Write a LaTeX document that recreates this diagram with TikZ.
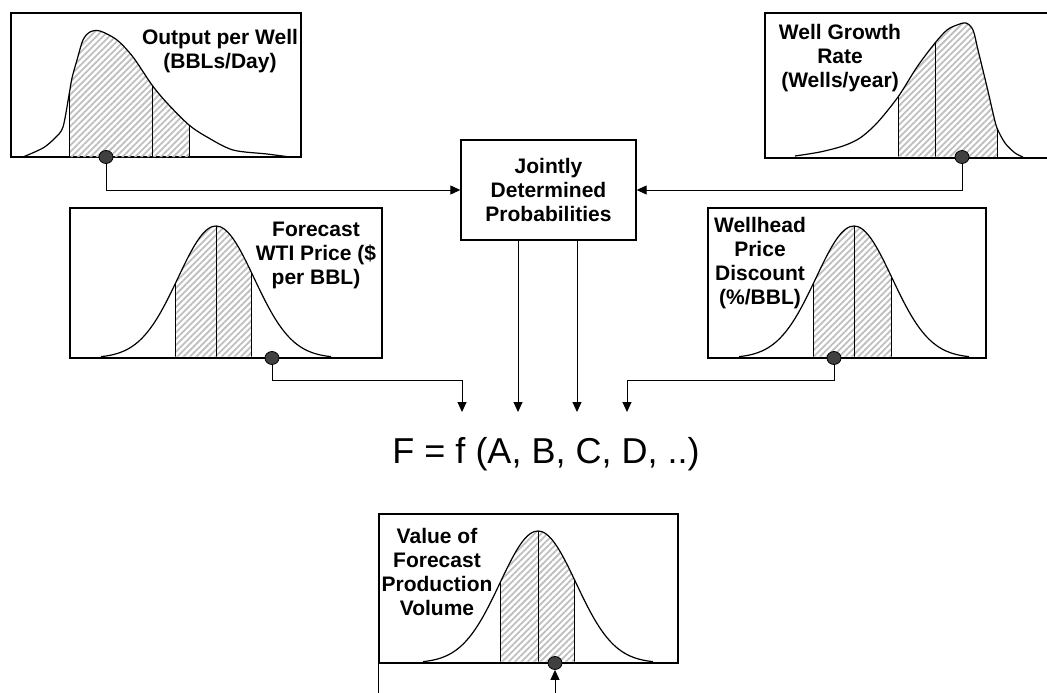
\documentclass[tikz,border=0pt]{standalone}
\usepackage{fontspec}
\setmainfont{Liberation Sans}
\usetikzlibrary{arrows.meta,patterns.meta}
\tikzset{
  pbox/.style={draw, line width=1.3pt, inner sep=0pt},
  plabel/.style={font=\fontsize{21}{24}\selectfont\bfseries, align=center, inner sep=0pt},
  hatch/.style={pattern={Lines[angle=45,distance=4.5pt,line width=1.8pt]}, pattern color=black!25},
  curve/.style={line width=1.2pt, line join=round},
  cut/.style={line width=1pt},
  pdot/.style={ellipse, draw=black, line width=0.8pt, fill=black!75, minimum width=14pt, minimum height=13pt, inner sep=0pt},
  arr/.style={line width=1pt, -{Triangle[length=10pt,width=9pt]}},
}
\usetikzlibrary{shapes.geometric}
% bell curve: centre, baseline, from, to
\newcommand{\bell}[4]{plot[domain=#3:#4, samples=61, smooth] (\x,{#2-132*exp(-((\x-#1)^2)/2888)})}
\def\curveA{plot[smooth] coordinates {(23,157) (43,148) (55,138) (63,127) (69,95) (72,78)
  (77,60) (83,40) (90,32) (100,31) (117,40) (133,57) (152,85) (167,103) (189,125)
  (207,137) (233,150) (267,154) (290,157)}}
\def\curveB{plot[smooth] coordinates {(795,156) (820,152) (843,146) (860,138) (877,123)
  (898,97) (917,67) (935,43) (947,30) (957,25) (966,23) (973,30) (978,50) (987,87)
  (993,113) (997,128) (1005,143) (1015,153) (1023,157)}}

\begin{document}
\begin{tikzpicture}[x=1pt, y=-1pt]
\useasboundingbox (0,0) rectangle (1047,693);

% Output per well
\node[pbox, minimum width=290pt, minimum height=144pt] (bA) at (156,85) {};
\begin{scope}
  \clip \curveA -- cycle;
  \fill[hatch] (69,0) rectangle (189,157);
  \draw[cut] (69,0) -- (69,157) (152,0) -- (152,157) (189,0) -- (189,157);
\end{scope}
\draw[curve] \curveA;
\node[plabel] (tA) at (220,51) {Output per Well\\(BBLs/Day)};
\node[pdot] (dA) at (106,157) {};

% Well growth rate
\node[pbox, minimum width=287pt, minimum height=145pt] (bB) at (908.5,85.5) {};
\begin{scope}
  \clip \curveB -- cycle;
  \fill[hatch] (898,0) rectangle (997,158);
  \draw[cut] (898,0) -- (898,158) (935,0) -- (935,158) (997,0) -- (997,158);
\end{scope}
\draw[curve] \curveB;
\node[plabel] (tB) at (840,58) {Well Growth\\Rate\\(Wells/year)};
\node[pdot] (dB) at (962,157) {};

% Forecast WTI price
\node[pbox, minimum width=312pt, minimum height=150pt] (bC) at (226,283) {};
\begin{scope}
  \clip \bell{216}{358}{101}{331} -- cycle;
  \fill[hatch] (175,200) rectangle (251,358);
  \draw[cut] (175,200) -- (175,358) (216,200) -- (216,358) (251,200) -- (251,358);
\end{scope}
\draw[curve] \bell{216}{358}{101}{331};
\node[plabel] (tC) at (316,255) {Forecast\\WTI Price (\$\\per BBL)};
\node[pdot] (dC) at (272,358) {};

% Wellhead price discount
\node[pbox, minimum width=278pt, minimum height=150pt] (bD) at (847,283) {};
\begin{scope}
  \clip \bell{854}{358}{739}{969} -- cycle;
  \fill[hatch] (813,200) rectangle (891,358);
  \draw[cut] (813,200) -- (813,358) (854,200) -- (854,362) (891,200) -- (891,358);
\end{scope}
\draw[curve] \bell{854}{358}{739}{969};
\node[plabel] (tD) at (760,263) {Wellhead\\Price\\Discount\\(\%/BBL)};
\node[pdot] (dD) at (834,358) {};

% Jointly determined probabilities
\node[pbox, plabel, minimum width=175pt, minimum height=100pt] (jp) at (548.5,190)
  {Jointly\\Determined\\Probabilities};

% Function
\node[font=\fontsize{36}{40}\selectfont, inner sep=0pt] (frm) at (546,454) {F = f (A, B, C, D, ..)};
\coordinate (inA) at (462,412);
\coordinate (inB) at (518,412);
\coordinate (inC) at (577,412);
\coordinate (inD) at (627,412);

% Value of forecast production volume
\node[pbox, minimum width=299pt, minimum height=149pt] (bE) at (528.5,588.5) {};
\begin{scope}
  \clip \bell{538}{663}{423}{653} -- cycle;
  \fill[hatch] (500,505) rectangle (574,663);
  \draw[cut] (500,505) -- (500,663) (538,505) -- (538,663) (574,505) -- (574,663);
\end{scope}
\draw[curve] \bell{538}{663}{423}{653};
\node[plabel] (tE) at (437,572) {Value of\\Forecast\\Production\\Volume};
\node[pdot] (dE) at (555,663) {};
\coordinate (vtop) at (378,568);
\coordinate (vbot) at (378,693);
\coordinate (src) at (555,693);

% Connectors
\draw[arr] (dA.south) |- (jp.west);
\draw[arr] (dB.south) |- (jp.east);
\draw[arr] (dC.south) -- ++(0,16) -| (inA);
\draw[arr] (dD.south) -- ++(0,16) -| (inD);
\draw[arr] (jp.south -| inB) -- (inB);
\draw[arr] (jp.south -| inC) -- (inC);
\draw[line width=1pt] (vtop) -- (vbot);
\draw[arr] (src) -- (dE.south);
\end{tikzpicture}
\end{document}
